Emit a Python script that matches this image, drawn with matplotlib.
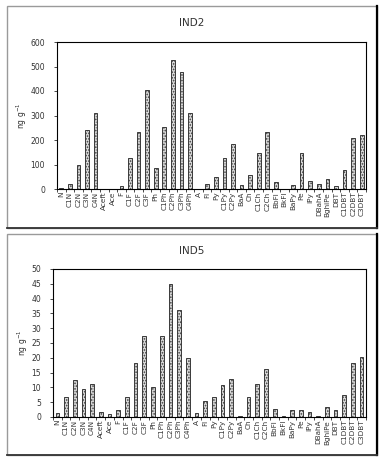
import numpy as np
import matplotlib
matplotlib.use("Agg")
import matplotlib.pyplot as plt
from matplotlib.patches import Rectangle

compounds = ["N", "C1N", "C2N", "C3N", "C4N", "Aceft", "Ace", "F", "C1F", "C2F",
             "C3F", "Ph", "C1Ph", "C2Ph", "C3Ph", "C4Ph", "A", "Fl", "Py", "C1Py",
             "C2Py", "BaA", "Ch", "C1Ch", "C2Ch", "BbFl", "BkFl", "BaPy", "Pe", "IPy",
             "DBahA", "BghiPe", "DBT", "C1DBT", "C2DBT", "C3DBT"]

ind2 = [3, 22, 98, 242, 310, 1, 1, 12, 127, 233,
        404, 86, 253, 527, 479, 312, 1, 20, 48, 127,
        184, 16, 56, 147, 231, 29, 0, 18, 148, 33,
        22, 42, 14, 78, 208, 222]

ind5 = [1.4, 6.6, 12.6, 9.3, 11.1, 1.6, 1.0, 2.3, 6.9, 18.2,
        27.3, 10.0, 27.3, 45.1, 36.3, 20.1, 1.5, 5.3, 6.7, 10.7,
        12.7, 0.3, 6.7, 11.1, 16.1, 2.7, 0.3, 2.3, 2.5, 1.8,
        0.3, 3.5, 2.2, 7.3, 18.2, 20.2]

W, H = 383, 463
fig = plt.figure(figsize=(W / 100, H / 100), dpi=100, facecolor="w")
plt.rcParams["hatch.linewidth"] = 0.8


def fx(px):
    return px / W


def fy(py):
    return 1 - py / H


def frame(top, bottom):
    # outer chart border, Excel style with dark shadow on right/bottom
    r = Rectangle((fx(7), fy(bottom)), fx(377) - fx(7), fy(top) - fy(bottom),
                  transform=fig.transFigure, fill=False, ec="#9a9a9a", lw=1.0)
    fig.add_artist(r)
    fig.add_artist(plt.Line2D([fx(377), fx(377)], [fy(bottom), fy(top)],
                              transform=fig.transFigure, color="black", lw=1.6))
    fig.add_artist(plt.Line2D([fx(7), fx(377)], [fy(bottom), fy(bottom)],
                              transform=fig.transFigure, color="#333333", lw=1.3))


def panel(rect, vals, ymax, step, title, title_y):
    left, top, right, bottom = rect
    ax = fig.add_axes([fx(left), fy(bottom), fx(right) - fx(left), fy(top) - fy(bottom)])
    x = np.arange(len(compounds))
    ax.bar(x, vals, width=0.42, color="#d8d8d8", edgecolor="#3a3a3a",
           hatch="......", lw=0.7)
    ax.set_xlim(-0.5, len(compounds) - 0.5)
    ax.set_ylim(0, ymax)
    ax.set_yticks(np.arange(0, ymax + step, step))
    ax.set_xticks(x)
    ax.set_xticklabels(compounds, rotation=90, fontsize=5.2, color="#333333")
    ax.set_xticks(np.arange(-0.5, len(compounds), 1), minor=True)
    ax.tick_params(axis="x", which="major", length=0, pad=2)
    ax.tick_params(axis="x", which="minor", length=2.5, width=0.5)
    ax.tick_params(axis="y", labelsize=5.5, length=2.5, width=0.5, pad=6,
                   labelcolor="#333333")
    for s in ax.spines.values():
        s.set_linewidth(0.8)
    ax.set_ylabel("ng g$^{-1}$", fontsize=5.5, labelpad=1, color="#333333")
    fig.text(0.501, fy(title_y), title, ha="center", va="center",
             fontsize=7.5, color="#333333")
    return ax


frame(6, 228)
frame(234, 455)
panel((57, 42, 366, 189), ind2, 600, 100, "IND2", 23)
panel((53, 269, 366, 417), ind5, 50, 5, "IND5", 251)

fig.savefig("out.png", dpi=100, facecolor="w")
